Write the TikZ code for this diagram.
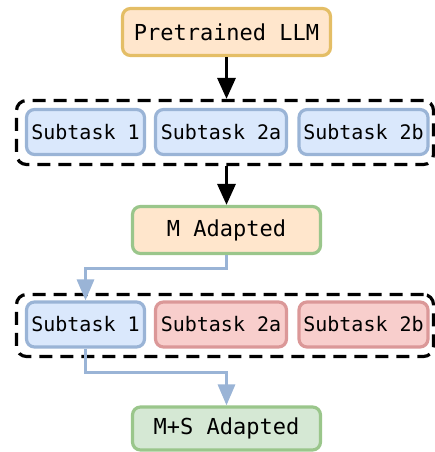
\documentclass[tikz,border=0pt]{standalone}
\usepackage{fontspec}
\setmonofont{DejaVu Sans Mono}
\usetikzlibrary{arrows.meta}

\definecolor{orfill}{HTML}{FFE6CC}
\definecolor{orline}{HTML}{E4BE66}
\definecolor{bluefill}{HTML}{DAE8FC}
\definecolor{blueline}{HTML}{9AB4D6}
\definecolor{redfill}{HTML}{F8CECC}
\definecolor{redline}{HTML}{DB9898}
\definecolor{grfill}{HTML}{D5E8D4}
\definecolor{grline}{HTML}{9AC68B}

\tikzset{
  box/.style={draw, rectangle, rounded corners=8pt, line width=3.2pt,
    inner sep=0pt, font=\ttfamily\fontsize{22}{24}\selectfont, text=black},
  subbox/.style={box, minimum height=45pt, font=\ttfamily\fontsize{20}{22}\selectfont},
  bluebox/.style={subbox, fill=bluefill, draw=blueline},
  redbox/.style={subbox, fill=redfill, draw=redline},
  group/.style={draw=black, rectangle, rounded corners=10pt, line width=3.2pt,
    dash pattern=on 13pt off 8pt, inner sep=0pt},
  blackarrow/.style={line width=3.2pt, draw=black,
    -{Triangle[width=18pt,length=21pt]}},
  bluearrow/.style={line width=3.2pt, draw=blueline,
    -{Triangle[width=17pt,length=21pt]}},
}

\begin{document}
\begin{tikzpicture}[x=1pt, y=-1pt]
  \useasboundingbox (0,0) rectangle (435,452);

  % top model
  \node[box, fill=orfill, draw=orline, minimum width=208pt, minimum height=47pt]
    (llm) at (226.5,32) {Pretrained LLM};

  % first group of subtasks
  \node[group, minimum width=417pt, minimum height=64pt] (g1) at (225,132.5) {};
  \node[bluebox, minimum width=118pt] (a1) at (85.5,132) {Subtask 1};
  \node[bluebox, minimum width=131pt] (a2) at (221,132) {Subtask 2a};
  \node[bluebox, minimum width=129pt] (a3) at (363.5,132) {Subtask 2b};

  % intermediate model
  \node[box, fill=orfill, draw=grline, minimum width=188pt, minimum height=47pt]
    (madapt) at (226.5,230) {M Adapted};

  % second group of subtasks
  \node[group, minimum width=417pt, minimum height=62pt] (g2) at (225,325.5) {};
  \node[bluebox, minimum width=118pt] (b1) at (85.5,324.5) {Subtask 1};
  \node[redbox, minimum width=131pt] (b2) at (221,324.5) {Subtask 2a};
  \node[redbox, minimum width=129pt] (b3) at (363.5,324.5) {Subtask 2b};

  % final model
  \node[box, fill=grfill, draw=grline, minimum width=188pt, minimum height=43pt]
    (msadapt) at (226.5,428.5) {M+S Adapted};

  % connectors
  \draw[blackarrow] (llm.south) -- (llm.south |- g1.north);
  \draw[blackarrow] (madapt.north |- g1.south) -- (madapt.north);
  \draw[bluearrow] (madapt.south) -- ++(0,13) -| (b1.north);
  \draw[bluearrow] (b1.south) -- ++(0,24) -| (msadapt.north);
\end{tikzpicture}
\end{document}
